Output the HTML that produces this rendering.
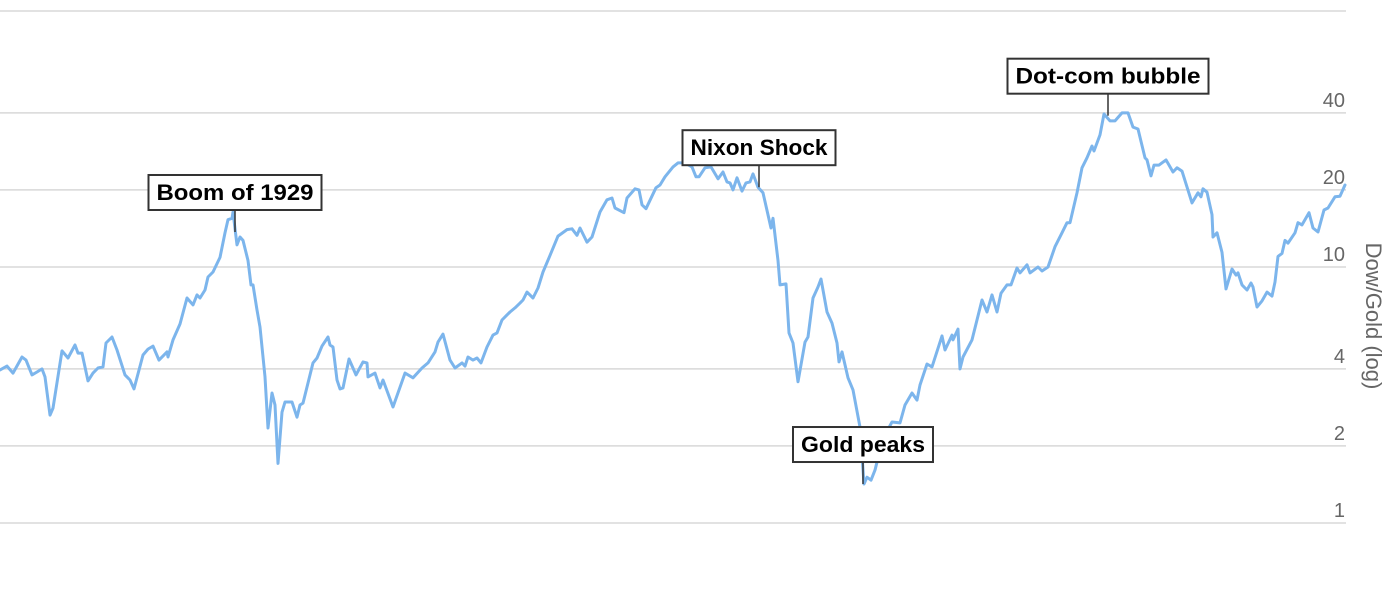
<!DOCTYPE html>
<html>
<head>
<meta charset="utf-8">
<style>
html,body{margin:0;padding:0;background:#fff;}
svg{display:block;}
text{font-family:"Liberation Sans","DejaVu Sans",sans-serif;}
</style>
</head>
<body>
<svg id="chart" width="1400" height="600" viewBox="0 0 1400 600" xmlns="http://www.w3.org/2000/svg">
  <g id="grid"></g>
  <g id="ylabels"></g>
  <text x="1366" y="316" transform="rotate(90 1366 316)" text-anchor="middle" font-size="22" fill="#666">Dow/Gold (log)</text>
  <path id="series" fill="none" stroke="#7cb5ec" stroke-width="3" stroke-linejoin="round" stroke-linecap="round"></path>
  <g id="annos"></g>
</svg>
<script>
const years = [1910.00,1910.56,1911.04,1911.76,1912.08,1912.56,1912.96,1913.36,1913.6,1914.0,1914.24,1914.96,1915.44,1916.0,1916.24,1916.56,1917.04,1917.44,1917.84,1918.24,1918.48,1918.96,1919.36,1920.0,1920.4,1920.72,1921.44,1921.84,1922.24,1922.72,1923.36,1923.44,1923.84,1924.4,1924.96,1925.44,1925.76,1926.0,1926.4,1926.64,1927.04,1927.6,1928.0,1928.24,1928.56,1928.64,1928.96,1929.2,1929.44,1929.84,1930.08,1930.24,1930.56,1930.8,1931.2,1931.44,1931.76,1932.0,1932.24,1932.56,1932.8,1933.36,1933.76,1934.0,1934.24,1935.04,1935.36,1935.76,1936.24,1936.4,1936.64,1936.96,1937.2,1937.44,1937.92,1938.48,1939.04,1939.36,1939.44,1940.0,1940.4,1940.64,1941.44,1942.4,1943.04,1943.76,1944.24,1944.8,1945.04,1945.44,1946.0,
1946.4,1946.96,1947.2,1947.44,1947.84,1948.16,1948.48,1948.96,1949.44,1949.76,1950.16,1950.56,1950.8,1951.2,1951.6,1951.84,1952.16,1952.64,1953.04,1953.44,1954.0,1954.64,1955.36,1955.76,1956.16,1956.4,1956.96,1957.36,1958.0,1958.56,1958.96,1959.2,1959.92,1960.16,1960.8,1961.12,1961.36,1961.68,1962.48,1962.8,1963.2,1963.84,1964.24,1964.8,1965.36,1965.68,1965.92,1966.4,1966.88,1967.44,1967.84,1968.16,1968.4,1968.64,1968.96,1969.36,1969.68,1970.0,1970.24,1970.64,1971.04,1971.68,1971.84,1972.24,1972.4,1972.88,1973.12,1973.44,1973.84,1974.4,1974.64,1975.04,1975.44,1975.68,1976.16,1976.56,1976.96,1977.12,1977.36,1977.84,1978.24,1978.8,1979.12,1979.36,1979.68,1980.0,1980.4,1980.8,
1981.36,1982.0,1982.4,1982.96,1983.36,1983.6,1984.16,1984.56,1985.36,1985.6,1986.16,1986.24,1986.64,1986.8,1987.04,1987.76,1988.56,1988.96,1989.36,1989.76,1990.08,1990.56,1990.88,1991.36,1991.6,1992.16,1992.4,1993.04,1993.36,1993.84,1994.4,1994.96,1995.36,1995.6,1996.16,1996.56,1996.96,1997.36,1997.52,1998.0,1998.32,1998.8,1999.2,1999.76,2000.08,2000.24,2000.64,2001.04,2001.6,2001.76,2002.08,2002.32,2002.72,2003.28,2003.84,2004.16,2004.56,2005.36,2005.84,2006.08,2006.24,2006.56,2006.96,2007.04,2007.36,2007.76,2008.08,2008.56,2008.88,2009.04,2009.36,2009.76,2010.08,2010.24,2010.56,2010.96,2011.36,2011.76,2012.0,2012.24,2012.56,2012.8,2013.04,2013.6,2013.84,2014.16,2014.72,2015.04,2015.44,2015.92,2016.24,2016.8,2017.2,2017.6];
const ratios = [3.96,4.10,3.85,4.45,4.33,3.79,3.89,4.00,3.72,2.64,2.81,4.70,4.41,4.96,4.61,4.61,3.59,3.85,4.03,4.07,5.05,5.33,4.74,3.79,3.62,3.34,4.53,4.78,4.91,4.33,4.66,4.45,5.19,5.99,7.57,7.11,7.78,7.57,8.13,9.14,9.56,10.9,13.6,15.3,15.5,16.4,12.2,13.1,12.7,10.6,8.51,8.51,6.79,5.83,3.72,2.35,3.22,2.89,1.71,2.71,2.97,2.97,2.59,2.89,2.94,4.22,4.41,4.91,5.33,4.96,4.87,3.62,3.34,3.37,4.37,3.79,4.26,4.22,3.72,3.85,3.37,3.62,2.84,3.85,3.69,4.03,4.22,4.66,5.09,5.47,4.33,
4.03,4.22,4.10,4.45,4.33,4.41,4.22,4.87,5.42,5.53,6.21,6.50,6.67,6.92,7.23,7.43,7.98,7.57,8.28,9.56,11.1,13.2,14.0,14.1,13.3,14.2,12.5,13.1,16.4,18.3,18.6,17.0,16.3,18.6,20.2,20.0,17.5,16.9,20.4,20.9,22.5,24.6,25.5,25.5,24.6,22.5,22.5,24.4,24.6,22.1,23.5,21.5,21.3,20.0,22.3,19.8,21.3,21.5,23.1,20.5,19.5,14.2,15.5,10.6,8.51,8.59,5.53,5.05,3.56,5.09,5.33,7.57,8.35,8.98,6.67,6.04,5.05,4.26,4.66,3.69,3.31,2.37,1.42,1.51,1.47,1.61,1.93,2.21,
2.48,2.46,2.89,3.22,3.02,3.46,4.18,4.07,5.38,4.74,5.42,5.19,5.72,4.00,4.45,5.19,7.43,6.67,7.78,6.67,7.90,8.51,8.51,9.91,9.48,10.2,9.48,10.0,9.65,10.0,12.0,13.6,14.9,14.9,19.5,24.4,26.7,29.7,28.4,32.8,39.6,37.2,37.2,40.0,40.0,40.0,35.2,34.6,26.7,26.2,22.7,25.0,25.0,26.2,23.5,24.4,23.7,17.8,19.5,18.8,20.2,19.6,16.0,13.1,13.6,11.4,8.21,9.82,9.30,9.48,8.51,8.13,8.66,8.35,6.98,7.37,7.98,7.70,8.74,11.0,11.3,12.7,12.4,13.6,14.9,14.6,16.3,14.2,13.7,16.7,17.0,18.8,18.9,20.9];
const gridValues = [1,2,4,10,20,40,100];
const tickLabels = ["1","2","4","10","20","40",""];
const annoLabels = ["Boom of 1929","Nixon Shock","Gold peaks","Dot-com bubble"];
const annoYears = [1928.8,1970.72,1979.04,1998.64];
const annoValues = [13.7,20.5,1.42,39.0];
const annoWidths = [157,137,124,185];

const NS = "http://www.w3.org/2000/svg";
function xScale(yr){ return (yr - 1910) * (1345 / 107.6); }
function yScale(v){ return 523 - 256 * Math.log10(v); }

const grid = document.getElementById('grid');
const ylabels = document.getElementById('ylabels');
gridValues.forEach((v, i) => {
  const y = yScale(v);
  const ln = document.createElementNS(NS, 'line');
  
  
  ln.setAttribute('x1', 0); ln.setAttribute('x2', 1346);
  ln.setAttribute('y1', y); ln.setAttribute('y2', y);
  ln.setAttribute('stroke', '#d8d8d8'); ln.setAttribute('stroke-width', '1.5');
  grid.appendChild(ln);
  if (tickLabels[i]) {
    const t = document.createElementNS(NS, 'text');
    
    
    t.setAttribute('x', 1345); t.setAttribute('y', y - 6);
    t.setAttribute('text-anchor', 'end');
    t.setAttribute('font-size', '20'); t.setAttribute('fill', '#666');
    t.textContent = tickLabels[i];
    ylabels.appendChild(t);
  }
});

let d = '';
years.forEach((yr, i) => {
  d += (i ? 'L' : 'M') + xScale(yr).toFixed(1) + ' ' + yScale(ratios[i]).toFixed(1);
});
document.getElementById('series').setAttribute('d', d);

const annos = document.getElementById('annos');
annoLabels.forEach((lab, i) => {
  const ax = xScale(annoYears[i]);
  const ay = yScale(annoValues[i]);
  const g = document.createElementNS(NS, 'g');
  
  
  const stem = document.createElementNS(NS, 'line');
  
  
  stem.setAttribute('x1', ax); stem.setAttribute('x2', ax);
  stem.setAttribute('y1', ay - 22); stem.setAttribute('y2', ay);
  stem.setAttribute('stroke', '#333'); stem.setAttribute('stroke-width', '1.5');
  g.appendChild(stem);
  const w = annoWidths[i] + 16, h = 35;
  const rect = document.createElementNS(NS, 'rect');
  
  
  rect.setAttribute('x', ax - w / 2); rect.setAttribute('y', ay - 22 - h);
  rect.setAttribute('width', w); rect.setAttribute('height', h);
  rect.setAttribute('fill', '#fff'); rect.setAttribute('stroke', '#333'); rect.setAttribute('stroke-width', '2');
  g.appendChild(rect);
  const t = document.createElementNS(NS, 'text');
  
  
  t.setAttribute('x', ax); t.setAttribute('y', ay - 22 - 10);
  t.setAttribute('text-anchor', 'middle');
  t.setAttribute('font-size', '22'); t.setAttribute('font-weight', 'bold'); t.setAttribute('fill', '#000');
  t.setAttribute('textLength', annoWidths[i]); t.setAttribute('lengthAdjust', 'spacingAndGlyphs');
  t.textContent = lab;
  g.appendChild(t);
  annos.appendChild(g);
});
</script>
</body>
</html>
